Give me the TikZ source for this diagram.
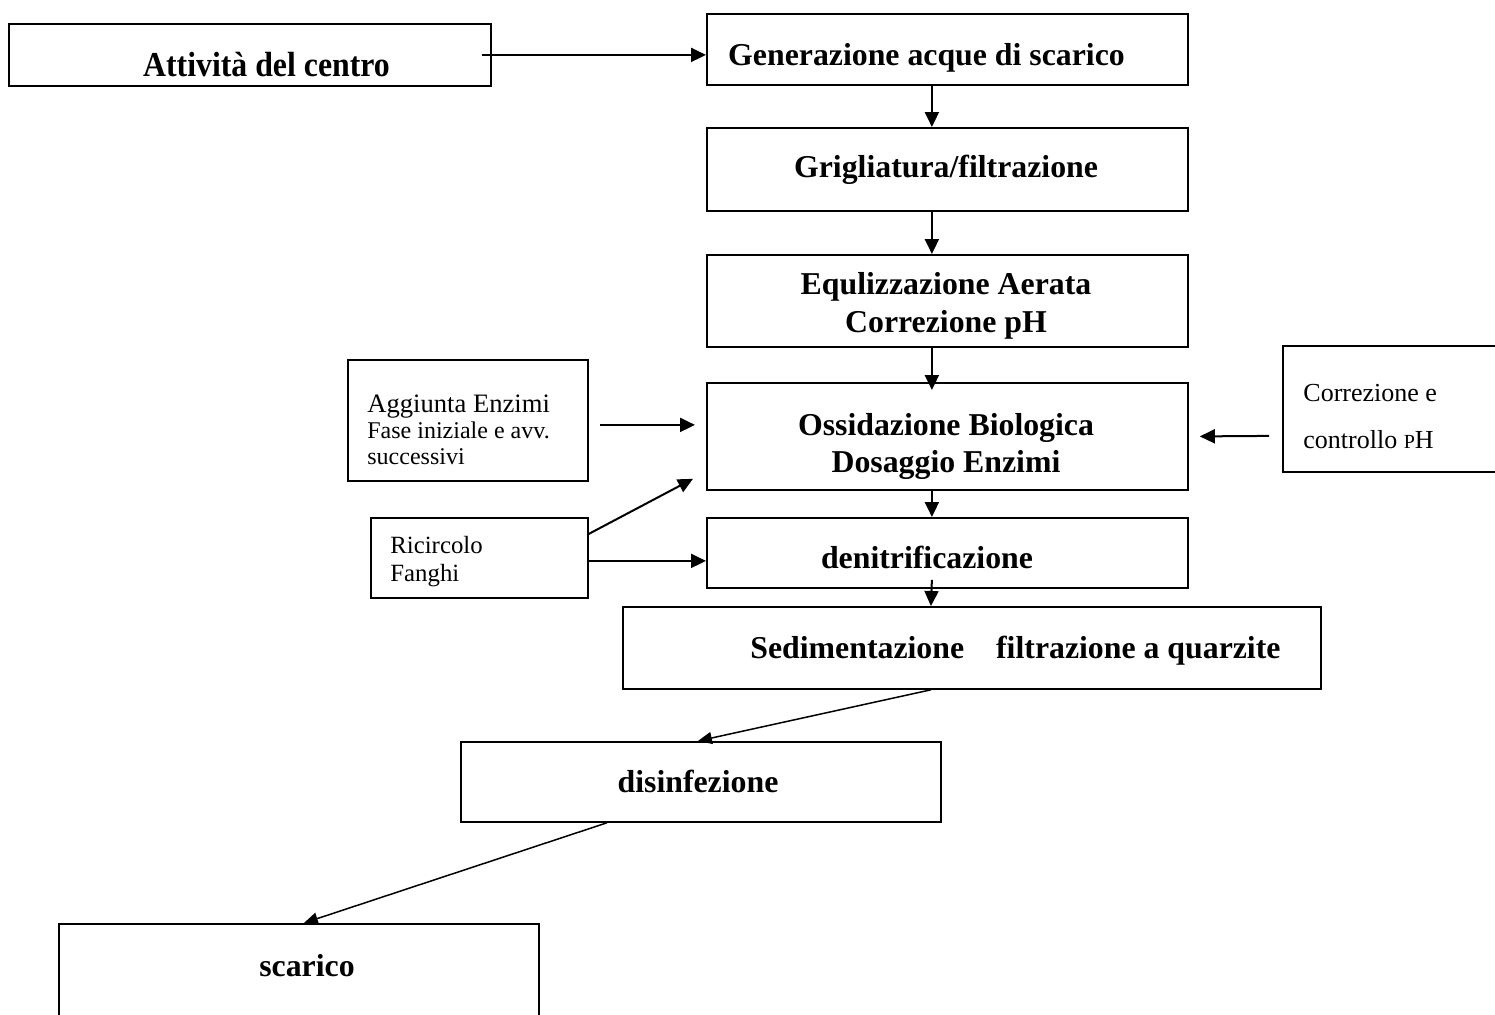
\documentclass[tikz,border=0pt]{standalone}
\usepackage{fontspec}
\setmainfont{Liberation Serif}
\usetikzlibrary{arrows.meta}
\tikzset{
  box/.style={draw, line width=0.9pt, inner sep=0pt, anchor=north west},
  bt/.style={inner sep=0pt, anchor=base, font=\bfseries\fontsize{15.9}{18}\selectfont},
  lt/.style={inner sep=0pt, anchor=base west},
  arr/.style={line width=1pt, -{Triangle[length=7.5pt,width=7pt]}},
  sarr/.style={line width=0.75pt, -{Triangle[length=7pt,width=6pt]}},
}
\begin{document}
\begin{tikzpicture}[x=0.5pt,y=-0.5pt]
\useasboundingbox (0,0) rectangle (1495,1014);
\clip (0,0) rectangle (1495,1014);
% boxes
\node[box, minimum width=241pt, minimum height=31pt] (att) at (8,23) {};
\node[box, minimum width=240.5pt, minimum height=35.5pt] (gen) at (706,13) {};
\node[box, minimum width=240.5pt, minimum height=41.5pt] (gri) at (706,127) {};
\node[box, minimum width=240.5pt, minimum height=46pt] (equ) at (706,254) {};
\node[box, minimum width=240.5pt, minimum height=53.5pt] (oss) at (706,382) {};
\node[box, minimum width=120pt, minimum height=60.5pt] (agg) at (347,359) {};
\node[box, minimum width=112pt, minimum height=63pt] (cor) at (1282,345) {};
\node[box, minimum width=108.5pt, minimum height=40pt] (ric) at (370,517) {};
\node[box, minimum width=240.5pt, minimum height=35pt] (den) at (706,517) {};
\node[box, minimum width=349pt, minimum height=41pt] (sed) at (622,606) {};
\node[box, minimum width=240pt, minimum height=40pt] (dis) at (460,741) {};
\node[box, minimum width=240pt, minimum height=60pt] (sca) at (58,923) {};
% texts
\node[bt] (attT) at (266.5,76) {\scalebox{1}[1.1]{Attività del centro}};
\node[bt] (genT) at (926.5,65) {Generazione acque di scarico};
\node[bt] (griT) at (946,177) {Grigliatura/filtrazione};
\node[bt] (equT1) at (946,294) {Equlizzazione Aerata};
\node[bt] (equT2) at (946,332) {Correzione pH};
\node[bt] (ossT1) at (946,435) {Ossidazione Biologica};
\node[bt] (ossT2) at (946,472) {Dosaggio Enzimi};
\node[bt] (denT) at (927,568) {denitrificazione};
\node[bt, anchor=base west] (sedT) at (750,658) {Sedimentazione\hspace{16pt}filtrazione a quarzite};
\node[bt] (disT) at (698,792) {disinfezione};
\node[bt] (scaT) at (307,976) {scarico};
\node[lt, font=\fontsize{13.3}{15}\selectfont] (aggT1) at (367,412) {Aggiunta Enzimi};
\node[lt, font=\fontsize{12}{14}\selectfont] (aggT2) at (367,438) {Fase iniziale e avv.};
\node[lt, font=\fontsize{12}{14}\selectfont] (aggT3) at (367,464) {successivi};
\node[lt, font=\fontsize{12.4}{14}\selectfont] (ricT1) at (390,553) {Ricircolo};
\node[lt, font=\fontsize{12.4}{14}\selectfont] (ricT2) at (390,581) {Fanghi};
\node[lt, font=\fontsize{13}{15}\selectfont] (corT1) at (1303,401) {Correzione e};
\node[lt, font=\fontsize{13}{15}\selectfont] (corT2) at (1303,448) {controllo {\fontsize{10}{12}\selectfont P}H};
% connectors
\draw[arr] ([xshift=-5pt]att.east) -- (att.east -| gen.west);
\draw[arr] ([xshift=-7.75pt]gen.south) -- ([xshift=-7.75pt]gri.north);
\draw[arr] ([xshift=-7.75pt]gri.south) -- ([xshift=-7.75pt]equ.north);
\draw[arr] ([xshift=-7.75pt]equ.south) -- ([xshift=-7.75pt,yshift=-4pt]oss.north);
\draw[arr] ([xshift=-7.75pt]oss.south) -- ([xshift=-7.75pt]den.north);
\draw[arr] ([xshift=-7.75pt,yshift=4.5pt]den.south) -- ([xshift=-20.5pt]sed.north);
\draw[arr] ([xshift=5.5pt,yshift=-2.25pt]agg.east) -- ([xshift=-5.5pt,yshift=5.75pt]oss.west);
\draw[arr] ([xshift=-6.5pt,yshift=-13.5pt]cor.west) -- ([xshift=5.5pt]oss.east);
\draw[arr] ([yshift=12pt]ric.east) -- ([xshift=-6.5pt,yshift=6pt]oss.south west);
\draw[arr] ([yshift=-1.5pt]ric.east) -- ([yshift=-4pt]den.west);
\draw[sarr] ([xshift=-20.5pt]sed.south) -- ([xshift=-1.5pt]dis.north);
\draw[sarr] ([xshift=-47pt]dis.south) -- ([xshift=2.5pt]sca.north);
\end{tikzpicture}
\end{document}
